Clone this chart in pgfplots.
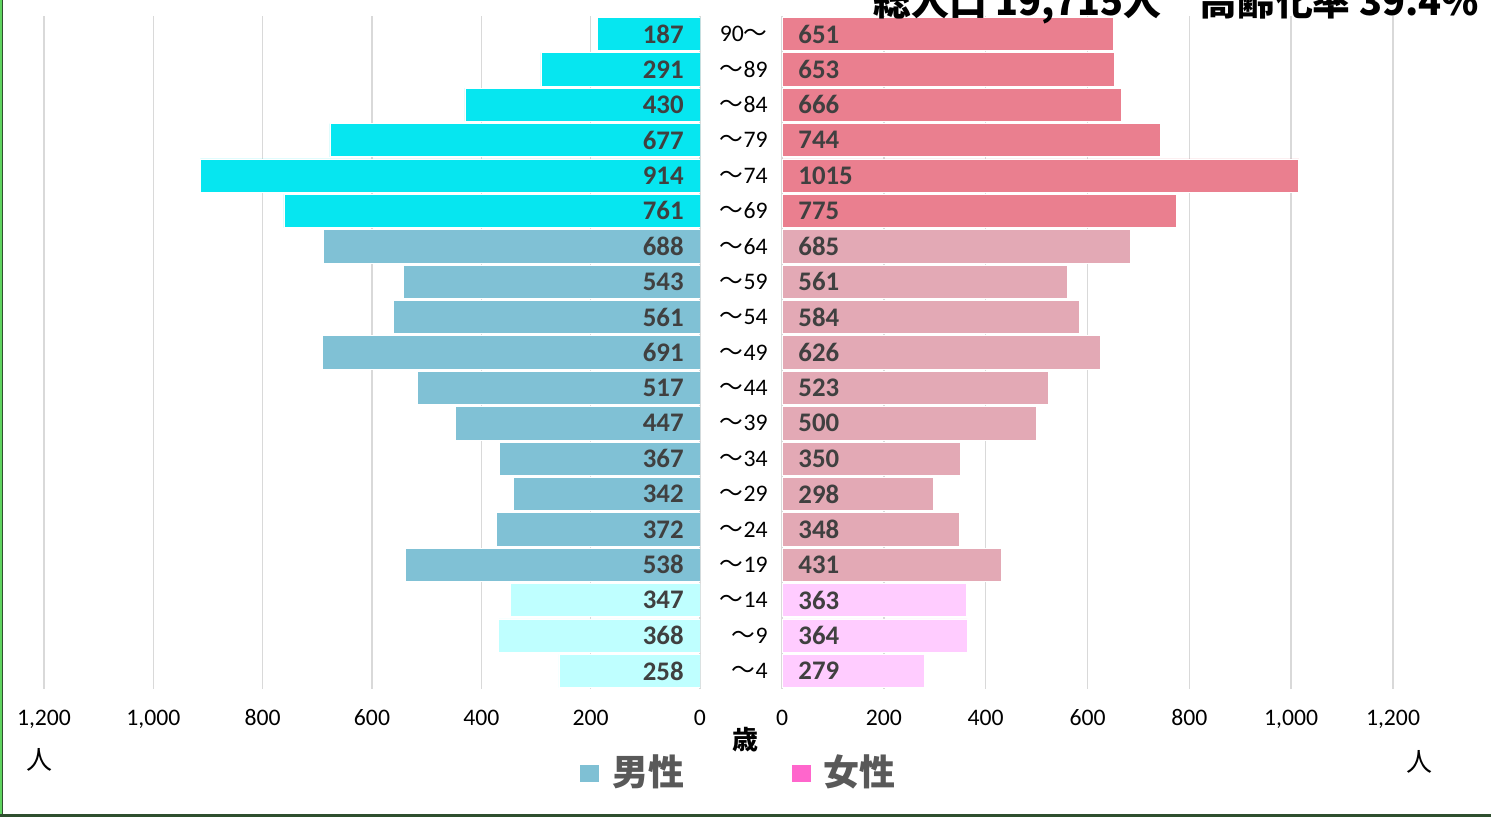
\documentclass[border=0pt]{standalone}
\usepackage{pgfplots}
\pgfplotsset{compat=1.18}
\usepackage{pgfplotstable}
\usepackage{fontspec}
\setmainfont{Carlito}
\newfontfamily\cjk{Noto Sans CJK JP}

\definecolor{mA}{HTML}{06E6F0}
\definecolor{mB}{HTML}{80C1D5}
\definecolor{mC}{HTML}{BFFFFF}
\definecolor{fA}{HTML}{EA7F8F}
\definecolor{fB}{HTML}{E3A9B5}
\definecolor{fC}{HTML}{FFCCFF}
\definecolor{legM}{HTML}{7FC0D4}
\definecolor{legF}{HTML}{FF66CC}
\definecolor{lab}{HTML}{404040}
\definecolor{gridc}{HTML}{D9D9D9}
\definecolor{legtext}{HTML}{595959}
\definecolor{frameL}{HTML}{5FD35F}
\definecolor{frameB}{HTML}{2F4F2F}

\pgfplotstableread{
idx male female
0 258 279
1 368 364
2 347 363
3 538 431
4 372 348
5 342 298
6 367 350
7 447 500
8 517 523
9 691 626
10 561 584
11 543 561
12 688 685
13 761 775
14 914 1015
15 677 744
16 430 666
17 291 653
18 187 651
}\pop

\pgfplotsset{
  pyr/.style={
    scale only axis, height=336.2pt,
    ymin=-0.5, ymax=18.5, xmin=0, xmax=1200,
    xtick={0,200,...,1200},
    axis line style={draw=none}, tick style={draw=none},
    xmajorgrids, grid style={color=gridc, line width=0.8pt},
    /pgf/number format/assume math mode=true,
    /pgf/number format/1000 sep={,},
    xticklabel style={anchor=base, inner sep=0pt, yshift=-18.65pt,
      font=\fontsize{11.85pt}{14pt}\selectfont},
  },
  pbar/.style={xbar, bar width=0.94, bar shift=0pt, draw=white, line width=0.4pt},
}

\begin{document}
\begin{tikzpicture}
\useasboundingbox (0,0) rectangle (745.5pt,408.5pt);
\clip (0,0) rectangle (745.5pt,408.5pt);

% male
\begin{axis}[pyr, at={(22pt,64.15pt)}, anchor=south west, width=328pt,
  x dir=reverse, ytick=\empty]
\addplot[pbar, fill=mC, restrict y to domain=0:2] table[x=male, y=idx]{\pop};
\addplot[pbar, fill=mB, restrict y to domain=3:12] table[x=male, y=idx]{\pop};
\addplot[pbar, fill=mA, restrict y to domain=13:18] table[x=male, y=idx]{\pop};
\addplot[draw=none, mark=none, nodes near coords, point meta=explicit symbolic,
  every node near coord/.style={anchor=east, inner sep=0pt, xshift=-8pt,
    text=lab, font=\fontsize{13.4pt}{16pt}\selectfont\bfseries}]
  table[x expr=0, y=idx, meta=male]{\pop};
\end{axis}

% female
\begin{axis}[pyr, at={(391pt,64.15pt)}, anchor=south west, width=305.5pt,
  ytick={0,...,18},
  yticklabels={{\cjk 〜}4,{\cjk 〜}9,{\cjk 〜}14,{\cjk 〜}19,{\cjk 〜}24,{\cjk 〜}29,{\cjk 〜}34,{\cjk 〜}39,{\cjk 〜}44,{\cjk 〜}49,{\cjk 〜}54,{\cjk 〜}59,{\cjk 〜}64,{\cjk 〜}69,{\cjk 〜}74,{\cjk 〜}79,{\cjk 〜}84,{\cjk 〜}89,90{\cjk 〜}},
  yticklabel style={anchor=east, inner sep=0pt, xshift=-7pt,
    font=\fontsize{11.85pt}{14pt}\selectfont}]
\addplot[pbar, fill=fC, restrict y to domain=0:2] table[x=female, y=idx]{\pop};
\addplot[pbar, fill=fB, restrict y to domain=3:12] table[x=female, y=idx]{\pop};
\addplot[pbar, fill=fA, restrict y to domain=13:18] table[x=female, y=idx]{\pop};
\addplot[draw=none, mark=none, nodes near coords, point meta=explicit symbolic,
  every node near coord/.style={anchor=west, inner sep=0pt, xshift=8pt,
    text=lab, font=\fontsize{13.4pt}{16pt}\selectfont\bfseries}]
  table[x expr=0, y=idx, meta=female]{\pop};
\end{axis}

% title (cropped at top, as in the original)
\node[anchor=base west, inner sep=0pt, font=\cjk\bfseries\fontsize{18.9pt}{22pt}\selectfont]
  at (436.5pt,400.5pt) {総人口 19,715人　高齢化率 39.4\%};

% unit labels
\node[font=\cjk\bfseries\fontsize{13pt}{15pt}\selectfont] at (372.5pt,38.5pt) {歳};
\node[font=\cjk\fontsize{13pt}{15pt}\selectfont] at (19.75pt,28.5pt) {人};
\node[font=\cjk\fontsize{13pt}{15pt}\selectfont] at (709.5pt,27.75pt) {人};

% legend
\fill[legM] (290pt,17.5pt) rectangle (299.5pt,26pt);
\node[anchor=west, inner sep=0pt, text=legtext, font=\cjk\bfseries\fontsize{18pt}{20pt}\selectfont] at (306pt,22.75pt) {男性};
\fill[legF] (396pt,17.5pt) rectangle (405.5pt,26pt);
\node[anchor=west, inner sep=0pt, text=legtext, font=\cjk\bfseries\fontsize{18pt}{20pt}\selectfont] at (411.5pt,22.75pt) {女性};

% frame
\fill[frameL] (0,0) rectangle (1.2pt,408.5pt);
\fill[frameB] (1.2pt,0) rectangle (1.5pt,408.5pt);
\fill[frameB] (0,0) rectangle (745.5pt,1.5pt);
\end{tikzpicture}
\end{document}
